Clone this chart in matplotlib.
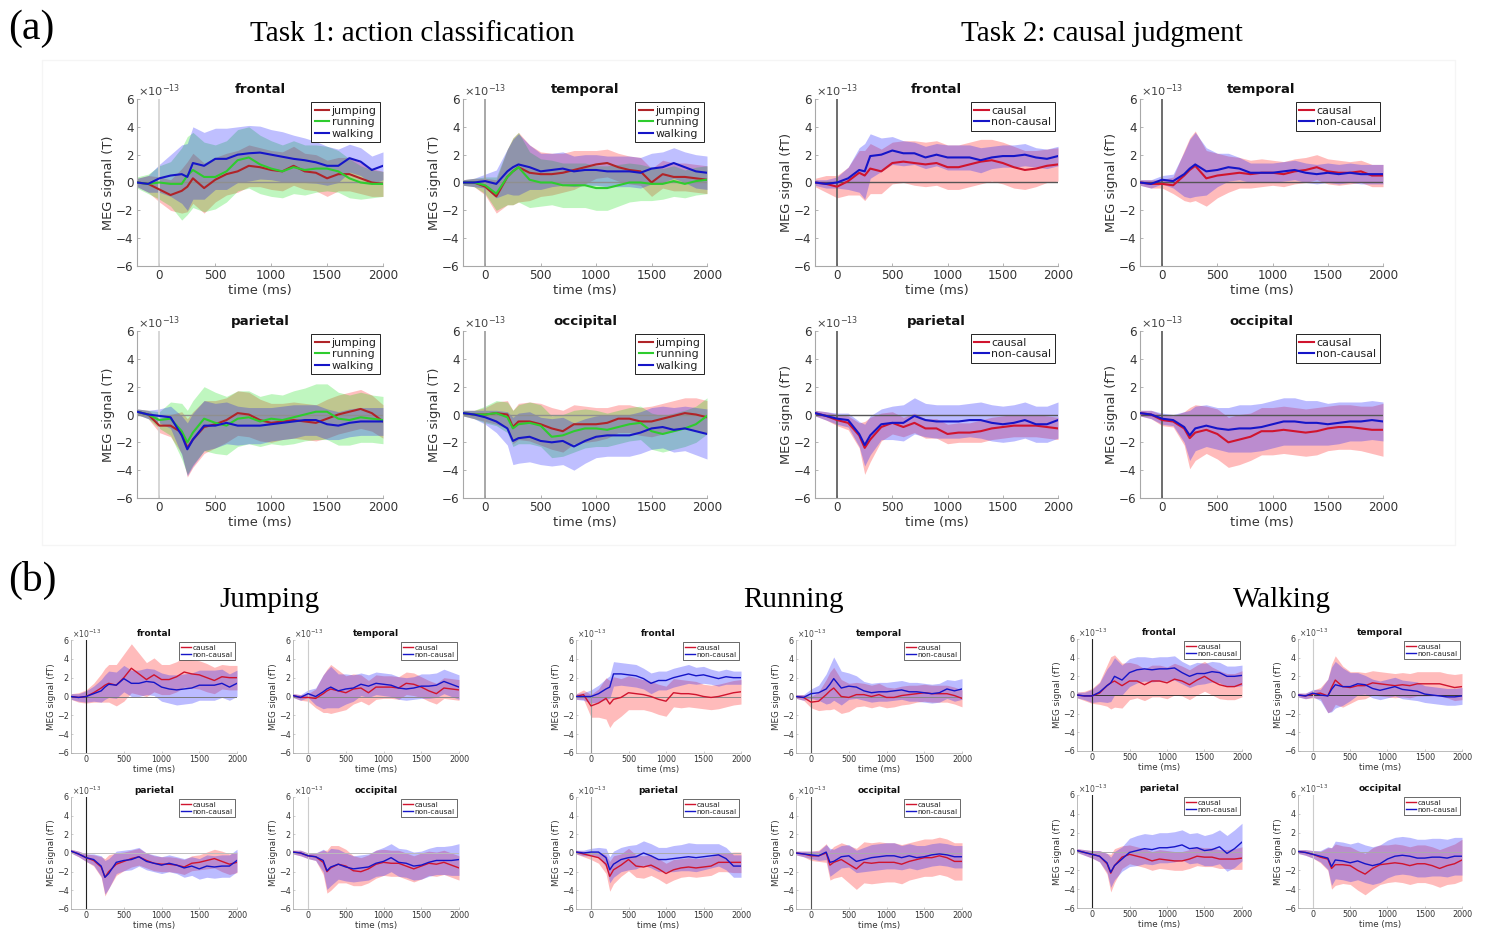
import numpy as np
import matplotlib
matplotlib.use("Agg")
import matplotlib.pyplot as plt
from matplotlib.patches import Rectangle

plt.rcParams["font.family"] = ["DejaVu Sans"]
plt.rcParams["mathtext.fontset"] = "dejavusans"

# ---------------- data (values in units of 1e-13 T) ----------------
t_ms = [-200, -100, 0, 100, 200, 250, 300, 400, 500, 600, 700, 800, 900, 1000,
        1100, 1200, 1300, 1400, 1500, 1600, 1700, 1800, 1900, 2000]

regions = ["frontal", "temporal", "parietal", "occipital"]
actions = ["jumping", "running", "walking"]
conditions = ["causal", "non-causal"]
x_ticks = [0, 500, 1000, 1500, 2000]
y_ticks = [-6, -4, -2, 0, 2, 4, 6]

# Task 1: action classification
t1_frontal_jumping = [0, -0.1, -0.5, -0.9, -0.6, -0.3, 0.3, -0.4, 0.2, 0.6, 0.8, 1.2, 1.1, 0.9, 0.8, 1.2, 0.8, 0.7, 0.3, 0.6, 0.6, 0.3, 0.0, -0.1]
t1_frontal_jumping_sd = [0.3, 0.6, 0.9, 1.1, 1.6, 1.8, 1.8, 1.8, 1.6, 1.5, 1.5, 1.5, 1.4, 1.4, 1.4, 1.4, 1.3, 1.3, 1.3, 1.2, 1.2, 1.1, 1.0, 0.9]
t1_frontal_running = [0, -0.1, 0.0, -0.1, -0.1, 0.5, 0.9, 0.4, 0.4, 0.8, 1.6, 1.8, 1.3, 1.0, 0.8, 1.1, 0.9, 1.0, 1.0, 0.8, 0.3, 0.0, -0.1, -0.1]
t1_frontal_running_sd = [0.4, 0.7, 1.2, 1.6, 2.6, 2.8, 2.7, 2.5, 2.3, 2.2, 2.2, 2.2, 2.1, 2.0, 1.9, 1.9, 1.8, 1.7, 1.6, 1.5, 1.4, 1.2, 1.0, 0.9]
t1_frontal_walking = [0, -0.1, 0.3, 0.5, 0.6, 0.4, 1.4, 1.2, 1.7, 1.7, 2.0, 2.1, 2.15, 2.0, 1.85, 1.7, 1.6, 1.45, 1.2, 1.2, 1.75, 1.5, 0.9, 1.2]
t1_frontal_walking_sd = [0.3, 0.6, 1.0, 1.5, 2.1, 2.4, 2.6, 2.4, 2.2, 2.2, 2.0, 2.0, 1.9, 1.8, 1.8, 1.7, 1.6, 1.5, 1.4, 1.2, 1.0, 1.0, 1.0, 1.0]

t1_temporal_jumping = [0, 0, -0.3, -1.0, 0.4, 0.8, 1.1, 0.7, 0.6, 0.6, 0.7, 0.9, 1.1, 1.3, 1.4, 1.1, 0.9, 0.8, 0.0, 0.6, 0.4, 0.4, 0.3, 0.2]
t1_temporal_jumping_sd = [0.2, 0.3, 0.6, 1.2, 2.0, 2.4, 2.5, 2.0, 1.6, 1.5, 1.4, 1.4, 1.2, 1.0, 1.0, 1.0, 1.0, 1.0, 1.0, 1.0, 1.0, 1.0, 1.0, 1.0]
t1_temporal_running = [0, 0, -0.2, -0.8, 0.4, 0.8, 1.1, 0.2, 0.0, 0.0, -0.2, -0.2, -0.2, -0.4, -0.4, -0.2, 0.0, 0.0, -0.1, -0.1, 0.1, -0.1, 0.1, 0.2]
t1_temporal_running_sd = [0.2, 0.3, 0.6, 1.2, 2.0, 2.4, 2.5, 2.0, 1.7, 1.6, 1.6, 1.6, 1.6, 1.6, 1.6, 1.5, 1.4, 1.3, 1.2, 1.1, 1.1, 1.0, 1.0, 1.0]
t1_temporal_walking = [0, 0, 0.1, -0.1, 0.8, 1.1, 1.3, 1.1, 0.8, 0.9, 1.0, 0.8, 0.9, 0.9, 0.8, 0.8, 0.8, 0.7, 1.0, 1.1, 1.4, 1.1, 0.8, 0.7]
t1_temporal_walking_sd = [0.2, 0.3, 0.5, 1.0, 1.6, 2.0, 2.2, 1.6, 1.3, 1.2, 1.2, 1.1, 1.1, 1.1, 1.1, 1.1, 1.1, 1.1, 1.1, 1.1, 1.1, 1.1, 1.2, 1.2]

t1_parietal_jumping = [0.2, 0, -0.8, -0.8, -1.3, -2.4, -1.8, -0.9, -0.7, -0.4, 0.1, 0.0, -0.4, -0.6, -0.5, -0.4, -0.5, -0.6, -0.3, 0.0, 0.2, 0.4, 0.1, -0.5]
t1_parietal_jumping_sd = [0.2, 0.3, 0.5, 0.8, 1.5, 2.1, 2.0, 1.9, 1.7, 1.6, 1.6, 1.6, 1.5, 1.4, 1.3, 1.3, 1.3, 1.3, 1.4, 1.4, 1.4, 1.4, 1.3, 1.2]
t1_parietal_running = [0.2, 0, -0.4, -0.3, -1.2, -2.0, -1.3, -0.3, -0.6, -0.8, -0.3, -0.2, -0.5, -0.3, -0.4, -0.2, 0.0, 0.2, 0.2, -0.3, -0.4, -0.2, -0.3, -0.4]
t1_parietal_running_sd = [0.2, 0.3, 0.6, 1.2, 2.0, 2.3, 2.3, 2.3, 2.2, 2.1, 2.0, 1.9, 1.8, 1.8, 1.8, 1.9, 1.9, 2.0, 2.0, 1.9, 1.8, 1.8, 1.7, 1.7]
t1_parietal_walking = [0.2, 0, -0.1, -0.2, -1.5, -2.5, -1.8, -0.8, -0.8, -0.6, -0.8, -0.8, -0.8, -0.7, -0.6, -0.5, -0.4, -0.4, -0.7, -0.8, -0.6, -0.5, -0.5, -0.5]
t1_parietal_walking_sd = [0.2, 0.3, 0.5, 0.8, 1.4, 1.9, 1.9, 1.8, 1.6, 1.5, 1.4, 1.3, 1.3, 1.2, 1.2, 1.2, 1.1, 1.1, 1.1, 1.0, 1.0, 1.0, 1.0, 1.0]

t1_occipital_jumping = [0.1, 0, 0, 0.1, 0.0, -0.9, -0.5, -0.5, -0.7, -1.0, -1.2, -0.7, -0.7, -0.7, -0.6, -0.3, -0.3, -0.5, -0.5, -0.3, -0.1, 0.1, 0.0, -0.2]
t1_occipital_jumping_sd = [0.2, 0.3, 0.5, 0.8, 1.0, 1.2, 1.3, 1.4, 1.5, 1.5, 1.5, 1.4, 1.3, 1.2, 1.1, 1.0, 1.0, 1.0, 1.1, 1.1, 1.1, 1.1, 1.2, 1.2]
t1_occipital_running = [0.1, 0, 0, 0.1, -0.2, -1.0, -0.7, -0.6, -0.8, -1.6, -1.5, -1.2, -1.0, -1.0, -1.1, -0.9, -0.7, -0.6, -1.2, -1.4, -1.2, -1.0, -0.7, -0.1]
t1_occipital_running_sd = [0.2, 0.3, 0.6, 0.9, 1.1, 1.3, 1.4, 1.5, 1.5, 1.5, 1.5, 1.5, 1.4, 1.3, 1.2, 1.2, 1.2, 1.2, 1.3, 1.3, 1.3, 1.3, 1.3, 1.3]
t1_occipital_walking = [0.1, 0, -0.2, -0.5, -1.0, -1.9, -1.7, -1.6, -1.9, -2.0, -1.9, -2.3, -1.9, -1.6, -1.5, -1.5, -1.5, -1.3, -1.0, -0.9, -1.1, -1.0, -1.2, -1.4]
t1_occipital_walking_sd = [0.2, 0.3, 0.5, 0.8, 1.2, 1.7, 1.8, 1.8, 1.7, 1.7, 1.7, 1.7, 1.6, 1.5, 1.5, 1.5, 1.5, 1.5, 1.5, 1.5, 1.6, 1.6, 1.7, 1.8]

# Task 2: causal judgment
t2_frontal_causal = [0, -0.1, -0.3, 0.1, 0.7, 0.5, 1.0, 0.8, 1.4, 1.5, 1.4, 1.3, 1.4, 1.1, 1.1, 1.3, 1.5, 1.6, 1.4, 1.1, 0.9, 1.0, 1.2, 1.3]
t2_frontal_causal_sd = [0.3, 0.6, 0.8, 1.0, 1.6, 1.8, 1.8, 1.6, 1.5, 1.5, 1.6, 1.6, 1.6, 1.6, 1.6, 1.6, 1.6, 1.5, 1.5, 1.5, 1.4, 1.3, 1.2, 1.2]
t2_frontal_noncausal = [0, -0.1, 0.0, 0.3, 0.9, 0.8, 1.9, 2.0, 2.3, 2.1, 2.1, 1.8, 2.0, 1.8, 1.8, 1.8, 1.6, 1.8, 1.9, 1.9, 2.0, 1.8, 1.7, 1.9]
t2_frontal_noncausal_sd = [0.2, 0.3, 0.4, 0.8, 1.6, 2.0, 1.6, 1.2, 1.0, 0.9, 0.8, 0.8, 0.8, 0.9, 0.9, 0.9, 0.9, 0.8, 0.8, 0.8, 0.8, 0.7, 0.7, 0.7]

t2_temporal_causal = [0, -0.1, -0.1, -0.2, 0.5, 0.9, 1.2, 0.3, 0.5, 0.6, 0.7, 0.6, 0.7, 0.7, 0.6, 0.8, 0.9, 1.1, 0.8, 0.7, 0.7, 0.8, 0.5, 0.5]
t2_temporal_causal_sd = [0.2, 0.3, 0.3, 0.6, 1.8, 2.3, 2.5, 2.0, 1.6, 1.3, 1.1, 1.0, 1.0, 0.9, 0.9, 0.9, 0.9, 0.9, 0.9, 0.9, 0.8, 0.8, 0.8, 0.8]
t2_temporal_noncausal = [0, -0.1, 0.2, 0.1, 0.6, 1.0, 1.3, 0.8, 0.9, 1.1, 1.0, 0.7, 0.7, 0.7, 0.8, 0.9, 0.7, 0.6, 0.7, 0.6, 0.7, 0.6, 0.6, 0.6]
t2_temporal_noncausal_sd = [0.2, 0.3, 0.3, 0.5, 1.6, 2.1, 2.3, 1.7, 1.2, 1.0, 0.8, 0.7, 0.7, 0.7, 0.7, 0.7, 0.7, 0.7, 0.7, 0.7, 0.7, 0.7, 0.7, 0.7]

t2_parietal_causal = [0.1, -0.1, -0.4, -0.6, -1.5, -2.4, -1.8, -0.9, -0.6, -0.9, -0.6, -1.0, -1.0, -1.4, -1.3, -1.3, -1.2, -1.0, -0.9, -0.8, -0.8, -0.8, -0.9, -1.0]
t2_parietal_causal_sd = [0.2, 0.3, 0.4, 0.5, 0.9, 1.9, 1.6, 1.0, 0.8, 0.7, 0.7, 0.7, 0.7, 0.7, 0.7, 0.7, 0.8, 0.8, 0.8, 0.8, 0.8, 0.8, 0.8, 0.8]
t2_parietal_noncausal = [0.1, -0.1, -0.3, -0.4, -1.4, -2.2, -1.5, -0.7, -0.6, -0.6, -0.1, -0.4, -0.5, -0.5, -0.5, -0.4, -0.4, -0.6, -0.7, -0.6, -0.4, -0.7, -0.7, -0.4]
t2_parietal_noncausal_sd = [0.2, 0.3, 0.4, 0.5, 0.9, 1.5, 1.4, 1.1, 1.2, 1.3, 1.3, 1.2, 1.2, 1.2, 1.2, 1.2, 1.3, 1.3, 1.3, 1.3, 1.3, 1.3, 1.3, 1.3]

t2_occipital_causal = [0.1, 0, -0.4, -0.5, -1.0, -1.7, -1.3, -1.1, -1.4, -2.0, -1.8, -1.6, -1.2, -1.2, -1.1, -1.2, -1.3, -1.2, -1.0, -0.9, -0.9, -1.0, -1.1, -1.1]
t2_occipital_causal_sd = [0.2, 0.3, 0.4, 0.4, 1.2, 2.2, 2.0, 1.7, 1.8, 1.8, 1.8, 1.7, 1.7, 1.7, 1.7, 1.7, 1.7, 1.7, 1.6, 1.6, 1.6, 1.6, 1.7, 1.9]
t2_occipital_noncausal = [0.1, 0, -0.3, -0.4, -0.9, -1.5, -1.0, -0.8, -1.0, -1.1, -1.0, -1.0, -0.9, -0.7, -0.5, -0.5, -0.6, -0.6, -0.7, -0.6, -0.5, -0.5, -0.4, -0.5]
t2_occipital_noncausal_sd = [0.2, 0.3, 0.4, 0.4, 1.1, 1.8, 1.6, 1.5, 1.5, 1.6, 1.7, 1.7, 1.7, 1.7, 1.7, 1.7, 1.6, 1.6, 1.5, 1.5, 1.4, 1.4, 1.4, 1.4]

# (b) Jumping
jump_frontal_causal = [0, -0.1, 0.0, 0.4, 0.9, 1.2, 1.4, 1.2, 2.0, 3.0, 2.4, 1.8, 2.3, 1.8, 1.8, 2.1, 2.6, 2.4, 2.3, 2.0, 1.7, 2.1, 2.0, 2.0]
jump_frontal_causal_sd = [0.3, 0.5, 0.7, 1.0, 1.5, 1.8, 2.0, 2.2, 2.5, 2.6, 2.2, 1.8, 1.8, 1.6, 1.6, 1.6, 1.6, 1.5, 1.5, 1.5, 1.4, 1.3, 1.3, 1.3]
jump_frontal_noncausal = [0, -0.1, 0.0, 0.3, 0.6, 1.0, 1.3, 1.2, 1.9, 1.4, 1.4, 1.6, 1.5, 1.0, 0.8, 0.7, 0.8, 0.9, 1.2, 1.2, 1.2, 1.4, 1.0, 1.4]
jump_frontal_noncausal_sd = [0.3, 0.4, 0.6, 0.8, 1.2, 1.3, 1.4, 1.4, 1.4, 1.4, 1.4, 1.4, 1.4, 1.5, 1.5, 1.6, 1.6, 1.6, 1.6, 1.6, 1.6, 1.5, 1.4, 1.4]
jump_temporal_causal = [0.1, -0.1, -0.1, -0.2, 0.3, 0.6, 0.8, 0.6, 0.4, 0.8, 0.9, 0.4, 1.0, 1.0, 1.0, 0.9, 1.4, 1.3, 1.0, 0.6, 0.3, 0.9, 0.8, 0.7]
jump_temporal_causal_sd = [0.2, 0.3, 0.4, 1.0, 2.0, 2.3, 2.6, 2.2, 1.8, 1.6, 1.4, 1.3, 1.3, 1.2, 1.2, 1.2, 1.2, 1.2, 1.1, 1.1, 1.1, 1.1, 1.1, 1.1]
jump_temporal_noncausal = [0.1, -0.1, 0.3, 0.0, 0.5, 0.8, 1.0, 0.6, 0.8, 0.9, 1.3, 1.1, 1.4, 1.3, 1.2, 0.9, 0.8, 0.9, 1.1, 1.1, 1.2, 1.6, 1.3, 1.0]
jump_temporal_noncausal_sd = [0.2, 0.3, 0.4, 0.9, 1.8, 2.0, 2.2, 1.8, 1.6, 1.4, 1.2, 1.2, 1.2, 1.2, 1.2, 1.2, 1.2, 1.2, 1.3, 1.3, 1.3, 1.3, 1.3, 1.3]
jump_parietal_causal = [0.2, -0.1, -0.5, -0.8, -1.5, -2.6, -2.0, -1.2, -0.9, -0.6, -0.4, -0.8, -1.1, -1.2, -1.2, -1.3, -1.5, -1.1, -1.0, -0.8, -0.6, -0.9, -1.2, -1.0]
jump_parietal_causal_sd = [0.2, 0.3, 0.4, 0.6, 1.1, 2.0, 1.8, 1.2, 1.0, 0.9, 0.9, 0.8, 0.8, 0.8, 0.8, 0.8, 0.8, 0.8, 0.8, 0.9, 1.0, 1.1, 1.1, 1.1]
jump_parietal_noncausal = [0.2, -0.1, -0.5, -0.7, -1.4, -2.6, -2.2, -1.0, -0.8, -0.7, -0.4, -0.9, -1.1, -1.3, -1.1, -1.3, -1.6, -1.4, -1.7, -1.4, -1.5, -1.4, -1.4, -0.8]
jump_parietal_noncausal_sd = [0.2, 0.3, 0.4, 0.6, 1.1, 1.8, 1.6, 1.2, 1.1, 1.1, 1.0, 0.9, 0.9, 0.9, 0.9, 0.9, 1.0, 1.0, 1.1, 1.2, 1.2, 1.2, 1.2, 1.2]
jump_occipital_causal = [0.1, 0, -0.3, -0.4, -1.0, -2.0, -1.6, -1.2, -1.4, -1.9, -2.0, -1.7, -1.2, -1.0, -1.1, -1.1, -1.4, -1.7, -1.4, -1.1, -1.2, -1.0, -1.3, -1.6]
jump_occipital_causal_sd = [0.2, 0.3, 0.3, 0.4, 1.3, 2.3, 2.4, 2.0, 1.8, 1.6, 1.5, 1.5, 1.5, 1.4, 1.4, 1.4, 1.4, 1.4, 1.4, 1.3, 1.3, 1.3, 1.3, 1.3]
jump_occipital_noncausal = [0.1, 0, -0.3, -0.4, -0.8, -1.9, -1.5, -1.2, -1.5, -1.7, -1.6, -1.5, -1.1, -0.9, -0.5, -1.0, -1.1, -1.4, -1.3, -1.0, -0.8, -0.8, -0.8, -0.7]
jump_occipital_noncausal_sd = [0.2, 0.3, 0.3, 0.4, 1.2, 2.0, 2.0, 1.6, 1.5, 1.4, 1.4, 1.4, 1.4, 1.5, 1.5, 1.5, 1.5, 1.5, 1.5, 1.5, 1.5, 1.5, 1.6, 1.7]

# (b) Running
run_frontal_causal = [0, 0.2, -1.0, -0.7, -0.2, -0.8, -0.3, -0.1, 0.4, 0.3, 0.2, 0.0, -0.3, -0.5, 0.4, 0.3, 0.3, 0.2, 0.0, -0.1, 0.0, 0.2, 0.4, 0.5]
run_frontal_causal_sd = [0.3, 0.5, 1.2, 1.5, 2.2, 2.5, 2.4, 2.0, 1.8, 1.7, 1.6, 1.6, 1.6, 1.6, 1.5, 1.5, 1.4, 1.4, 1.3, 1.3, 1.3, 1.3, 1.3, 1.3]
run_frontal_noncausal = [0, 0, 0.0, 0.3, 0.8, 1.0, 2.4, 2.4, 2.3, 2.2, 1.9, 1.4, 1.7, 1.7, 2.0, 2.2, 2.4, 2.2, 2.3, 2.1, 1.9, 2.1, 2.0, 2.0]
run_frontal_noncausal_sd = [0.3, 0.4, 0.7, 0.9, 1.1, 1.2, 1.3, 1.2, 1.2, 1.2, 1.1, 1.1, 1.0, 1.0, 1.0, 1.0, 1.0, 0.9, 0.9, 0.8, 0.8, 0.8, 0.7, 0.7]
run_temporal_causal = [0, -0.1, -0.6, -0.5, 0.2, 0.6, 0.9, 0.0, -0.1, 0.2, 0.2, 0.0, 0.2, -0.1, -0.1, 0.1, 0.2, 0.3, 0.4, 0.3, 0.3, 0.3, 0.1, -0.2]
run_temporal_causal_sd = [0.2, 0.3, 0.6, 1.0, 1.6, 2.0, 2.2, 1.8, 1.5, 1.3, 1.2, 1.2, 1.2, 1.1, 1.0, 1.0, 1.0, 0.9, 0.9, 0.9, 0.9, 0.9, 0.9, 0.9]
run_temporal_noncausal = [0, -0.1, 0.3, 0.4, 0.8, 1.3, 1.9, 0.9, 1.1, 1.0, 0.6, 0.4, 0.5, 0.5, 0.6, 0.7, 0.5, 0.5, 0.4, 0.3, 0.4, 0.8, 0.6, 0.8]
run_temporal_noncausal_sd = [0.2, 0.3, 0.5, 0.8, 1.6, 2.0, 2.3, 1.8, 1.4, 1.2, 1.0, 1.0, 1.0, 1.0, 1.0, 1.0, 1.0, 1.0, 1.0, 1.0, 1.0, 1.0, 1.1, 1.1]
run_parietal_causal = [0.1, -0.1, -0.3, -0.5, -1.2, -2.5, -1.8, -1.3, -0.7, -1.4, -1.5, -1.3, -1.7, -2.2, -1.8, -1.6, -1.5, -1.6, -1.5, -1.4, -1.0, -1.0, -1.0, -1.0]
run_parietal_causal_sd = [0.2, 0.3, 0.4, 0.6, 1.0, 1.6, 1.5, 1.2, 1.2, 1.2, 1.2, 1.1, 1.1, 1.1, 1.1, 1.0, 1.0, 1.0, 1.0, 1.0, 1.0, 1.0, 1.1, 1.1]
run_parietal_noncausal = [0.1, 0, 0.1, 0.1, -0.5, -1.8, -1.2, -0.7, -0.5, -0.4, 0.0, -0.3, -0.7, -0.7, -0.6, -0.5, -0.4, -0.5, -0.4, -0.3, -0.2, -0.6, -1.4, -1.4]
run_parietal_noncausal_sd = [0.2, 0.3, 0.4, 0.5, 1.0, 1.4, 1.4, 1.3, 1.3, 1.3, 1.3, 1.3, 1.3, 1.3, 1.4, 1.4, 1.5, 1.5, 1.4, 1.3, 1.2, 1.2, 1.2, 1.2]
run_occipital_causal = [0, -0.1, -0.3, -0.3, 0.0, -1.3, -1.0, -0.7, -1.2, -1.7, -1.0, -1.1, -1.0, -1.0, -1.0, -1.2, -0.9, -0.7, -0.5, -0.5, -0.3, -0.5, -0.9, -0.9]
run_occipital_causal_sd = [0.2, 0.3, 0.5, 0.6, 1.0, 1.6, 1.7, 1.8, 2.0, 2.2, 2.2, 2.2, 2.2, 2.1, 2.1, 2.1, 2.0, 2.0, 2.0, 2.0, 2.0, 2.0, 2.0, 2.0]
run_occipital_noncausal = [0, -0.1, -0.2, -0.3, 0.1, -1.0, -0.9, -0.4, -0.3, -0.9, -0.7, -0.5, -0.4, -0.3, -0.3, -0.5, -0.3, -0.5, -0.4, -0.2, -0.1, -0.2, -0.4, -0.4]
run_occipital_noncausal_sd = [0.2, 0.3, 0.4, 0.5, 0.8, 1.5, 1.3, 1.2, 1.2, 1.2, 1.3, 1.4, 1.4, 1.4, 1.4, 1.3, 1.3, 1.3, 1.2, 1.2, 1.2, 1.2, 1.2, 1.2]

# (b) Walking
walk_frontal_causal = [0, -0.1, -0.1, 0.2, 1.0, 1.3, 1.5, 1.0, 1.5, 1.5, 1.1, 1.5, 1.5, 1.3, 1.7, 1.5, 1.1, 1.6, 2.0, 1.5, 1.1, 0.9, 0.9, 1.2]
walk_frontal_causal_sd = [0.3, 0.5, 0.8, 1.2, 2.2, 2.8, 2.8, 2.4, 2.0, 1.8, 1.7, 1.7, 1.7, 1.7, 1.7, 1.6, 1.6, 1.6, 1.6, 1.5, 1.5, 1.4, 1.4, 1.4]
walk_frontal_noncausal = [0, -0.1, -0.1, 0.3, 1.0, 1.3, 2.0, 1.6, 2.4, 2.7, 2.8, 2.7, 2.8, 2.8, 2.9, 2.4, 2.0, 2.3, 2.3, 2.5, 2.4, 2.0, 2.0, 2.1]
walk_frontal_noncausal_sd = [0.3, 0.4, 0.7, 1.0, 1.8, 2.0, 2.0, 1.6, 1.5, 1.4, 1.3, 1.3, 1.3, 1.3, 1.3, 1.2, 1.2, 1.2, 1.1, 1.1, 1.1, 1.1, 1.1, 1.1]
walk_temporal_causal = [0, -0.1, 0.1, 0.2, -0.1, 0.8, 1.6, 0.9, 0.8, 1.0, 1.0, 1.3, 1.2, 1.1, 1.0, 1.1, 1.0, 1.2, 1.2, 1.2, 1.2, 1.0, 0.8, 0.9]
walk_temporal_causal_sd = [0.2, 0.3, 0.4, 0.6, 1.8, 2.5, 2.6, 2.2, 1.7, 1.5, 1.4, 1.3, 1.3, 1.3, 1.3, 1.3, 1.3, 1.3, 1.3, 1.3, 1.3, 1.3, 1.4, 1.4]
walk_temporal_noncausal = [0, -0.1, 0.2, 0.0, -0.1, 0.6, 1.1, 0.9, 0.9, 1.2, 1.1, 0.7, 0.5, 0.7, 0.9, 0.6, 0.5, 0.4, 0.1, 0.0, -0.1, -0.2, -0.2, -0.1]
walk_temporal_noncausal_sd = [0.2, 0.3, 0.4, 0.6, 1.8, 2.4, 2.5, 2.0, 1.5, 1.2, 1.0, 1.0, 1.0, 1.0, 1.0, 1.0, 1.0, 1.0, 0.9, 0.9, 0.9, 0.9, 0.9, 0.9]
walk_parietal_causal = [0.1, -0.1, -0.3, -0.5, -1.3, -2.3, -1.5, -0.6, -0.3, -0.5, -0.7, -1.0, -0.8, -0.9, -1.0, -1.0, -0.8, -0.5, -0.6, -0.6, -0.8, -0.8, -0.8, -0.7]
walk_parietal_causal_sd = [0.2, 0.3, 0.4, 0.6, 1.1, 2.0, 1.8, 1.2, 1.0, 1.0, 1.0, 1.0, 1.0, 1.0, 1.0, 1.0, 1.0, 1.0, 1.0, 1.0, 1.0, 1.0, 1.1, 1.2]
walk_parietal_noncausal = [0.1, -0.1, -0.3, -0.5, -1.2, -2.2, -1.5, -0.8, -0.1, 0.1, 0.3, 0.2, 0.4, 0.4, 0.5, 0.7, 0.3, 0.4, 0.1, 0.2, 0.5, -0.2, 0.3, 1.0]
walk_parietal_noncausal_sd = [0.2, 0.3, 0.4, 0.6, 1.0, 1.6, 1.5, 1.3, 1.5, 1.6, 1.6, 1.6, 1.6, 1.6, 1.6, 1.6, 1.6, 1.6, 1.6, 1.7, 1.8, 1.9, 2.0, 2.0]
walk_occipital_causal = [0, -0.1, -0.3, -0.6, -0.8, -1.8, -1.4, -1.4, -1.5, -2.0, -2.4, -1.8, -1.4, -1.3, -1.2, -1.3, -1.5, -1.3, -1.3, -1.5, -1.8, -1.5, -1.3, -0.9]
walk_occipital_causal_sd = [0.2, 0.3, 0.4, 0.6, 1.2, 2.2, 2.2, 2.0, 2.0, 2.1, 2.2, 2.2, 2.1, 2.0, 2.0, 2.0, 2.0, 2.0, 2.0, 2.0, 2.0, 2.0, 2.1, 2.2]
walk_occipital_noncausal = [0, -0.1, -0.3, -0.5, -0.7, -1.6, -0.9, -1.0, -1.2, -1.0, -1.3, -1.5, -1.3, -0.8, -0.5, -0.4, -0.5, -0.7, -0.7, -0.6, -0.6, -0.7, -0.5, -0.5]
walk_occipital_noncausal_sd = [0.2, 0.3, 0.4, 0.6, 1.2, 2.0, 2.0, 2.0, 2.0, 2.0, 2.0, 2.0, 2.0, 2.0, 2.0, 2.0, 2.0, 2.0, 2.0, 2.0, 2.0, 2.0, 2.0, 2.0]

# ---------------- figure ----------------
W, H = 1491, 934
fig = plt.figure(figsize=(W / 100, H / 100), dpi=100)
fig.patch.set_facecolor("white")


def ax_at(l, t, r, b):
    return fig.add_axes([l / W, 1 - b / H, (r - l) / W, (b - t) / H])


T1_LINE = {"jumping": "#b02428", "running": "#2ecc2e", "walking": "#1515c8"}
T1_FILL = {"jumping": "#ff0000", "running": "#00dd00", "walking": "#0000ff"}
T2_LINE = {"causal": "#d0142e", "non-causal": "#1515c8"}
T2_FILL = {"causal": "#ff2020", "non-causal": "#2020ff"}


def panel(ax, title, names, means, sds, line_cols, fill_cols, ylabel, s,
          vcol, hcol, falpha=0.25):
    tt = np.array(t_ms, dtype=float)
    for nm, m, sd in zip(names, means, sds):
        m = np.array(m, dtype=float)
        sd = np.array(sd, dtype=float)
        ax.fill_between(tt, m - sd, m + sd, color=fill_cols[nm], alpha=falpha,
                        lw=0, zorder=1)
    ax.axhline(0, color=hcol, lw=1.0 * s, zorder=2)
    ax.axvline(0, color=vcol, lw=1.2 * s, zorder=2)
    for nm, m in zip(names, means):
        ax.plot(tt, m, color=line_cols[nm], lw=1.5 * s, label=nm, zorder=3)
    ax.set_xlim(-200, 2000)
    ax.set_ylim(-6, 6)
    ax.set_xticks(x_ticks)
    ax.set_yticks(y_ticks)
    for sp in ["top", "right"]:
        ax.spines[sp].set_visible(False)
    for sp in ["left", "bottom"]:
        ax.spines[sp].set_color("#a8a8a8")
        ax.spines[sp].set_linewidth(0.8 * s)
    ax.tick_params(direction="in", length=2.5 * s, width=0.6 * s,
                   color="#a8a8a8", labelcolor="#333333",
                   labelsize=8.6 * s, pad=2.5 * s)
    ax.set_xlabel("time (ms)", fontsize=9.4 * s, color="#333333", labelpad=1 * s)
    ax.set_ylabel(ylabel, fontsize=9.4 * s, color="#333333", labelpad=1 * s)
    ax.set_title(title, fontweight="bold", fontsize=9.6 * s, pad=4.5 * s,
                 color="#111111")
    ax.text(0.005, 1.0, r"$\times10^{-13}$", transform=ax.transAxes,
            ha="left", va="bottom", fontsize=8.2 * s, color="#444444")
    leg = ax.legend(loc="upper right", fontsize=7.9 * s, frameon=True,
                    fancybox=False, borderpad=0.3, labelspacing=0.15,
                    handlelength=1.3, handletextpad=0.25,
                    borderaxespad=0.3)
    leg.get_frame().set_edgecolor("#222222")
    leg.get_frame().set_linewidth(0.7 * s)
    leg.get_frame().set_alpha(1)
    for txt in leg.get_texts():
        txt.set_color("#222222")


# ---- (a) layout (pixel boxes) ----
t1_boxes = {"frontal": (137, 99, 383, 266), "temporal": (463, 99, 707, 266),
            "parietal": (137, 331, 383, 498), "occipital": (463, 331, 707, 498)}
t2_boxes = {"frontal": (815, 99, 1058, 266), "temporal": (1140, 99, 1383, 266),
            "parietal": (815, 331, 1058, 498), "occipital": (1140, 331, 1383, 498)}

t1_data = {
    "frontal": ([t1_frontal_jumping, t1_frontal_running, t1_frontal_walking],
                [t1_frontal_jumping_sd, t1_frontal_running_sd, t1_frontal_walking_sd]),
    "temporal": ([t1_temporal_jumping, t1_temporal_running, t1_temporal_walking],
                 [t1_temporal_jumping_sd, t1_temporal_running_sd, t1_temporal_walking_sd]),
    "parietal": ([t1_parietal_jumping, t1_parietal_running, t1_parietal_walking],
                 [t1_parietal_jumping_sd, t1_parietal_running_sd, t1_parietal_walking_sd]),
    "occipital": ([t1_occipital_jumping, t1_occipital_running, t1_occipital_walking],
                  [t1_occipital_jumping_sd, t1_occipital_running_sd, t1_occipital_walking_sd]),
}
t1_vcol = {"frontal": "#cfcfcf", "temporal": "#9a9a9a", "parietal": "#cfcfcf", "occipital": "#9a9a9a"}

for r in regions:
    ax = ax_at(*t1_boxes[r])
    panel(ax, r, actions, t1_data[r][0], t1_data[r][1], T1_LINE, T1_FILL,
          "MEG signal (T)", 1.0, t1_vcol[r], "#8f8f8f", falpha=0.25)

t2_data = {
    "frontal": ([t2_frontal_causal, t2_frontal_noncausal], [t2_frontal_causal_sd, t2_frontal_noncausal_sd]),
    "temporal": ([t2_temporal_causal, t2_temporal_noncausal], [t2_temporal_causal_sd, t2_temporal_noncausal_sd]),
    "parietal": ([t2_parietal_causal, t2_parietal_noncausal], [t2_parietal_causal_sd, t2_parietal_noncausal_sd]),
    "occipital": ([t2_occipital_causal, t2_occipital_noncausal], [t2_occipital_causal_sd, t2_occipital_noncausal_sd]),
}
for r in regions:
    ax = ax_at(*t2_boxes[r])
    panel(ax, r, conditions, t2_data[r][0], t2_data[r][1], T2_LINE, T2_FILL,
          "MEG signal (fT)", 1.0, "#555555", "#555555", falpha=0.3)

# ---- (b) layout ----
S = 0.675
b_groups = {
    "Jumping": ({"frontal": (71, 640, 237, 753), "temporal": (293, 640, 459, 753),
                 "parietal": (71, 797, 237, 909), "occipital": (293, 797, 459, 909)},
                {"frontal": ([jump_frontal_causal, jump_frontal_noncausal], [jump_frontal_causal_sd, jump_frontal_noncausal_sd]),
                 "temporal": ([jump_temporal_causal, jump_temporal_noncausal], [jump_temporal_causal_sd, jump_temporal_noncausal_sd]),
                 "parietal": ([jump_parietal_causal, jump_parietal_noncausal], [jump_parietal_causal_sd, jump_parietal_noncausal_sd]),
                 "occipital": ([jump_occipital_causal, jump_occipital_noncausal], [jump_occipital_causal_sd, jump_occipital_noncausal_sd])},
                {"frontal": ("#222222", "#777777"), "temporal": ("#cccccc", "#888888"),
                 "parietal": ("#222222", "#bbbbbb"), "occipital": ("#cccccc", "#bbbbbb")}),
    "Running": ({"frontal": (576, 640, 741, 753), "temporal": (796, 640, 962, 753),
                 "parietal": (576, 797, 741, 909), "occipital": (796, 797, 962, 909)},
                {"frontal": ([run_frontal_causal, run_frontal_noncausal], [run_frontal_causal_sd, run_frontal_noncausal_sd]),
                 "temporal": ([run_temporal_causal, run_temporal_noncausal], [run_temporal_causal_sd, run_temporal_noncausal_sd]),
                 "parietal": ([run_parietal_causal, run_parietal_noncausal], [run_parietal_causal_sd, run_parietal_noncausal_sd]),
                 "occipital": ([run_occipital_causal, run_occipital_noncausal], [run_occipital_causal_sd, run_occipital_noncausal_sd])},
                {"frontal": ("#999999", "#888888"), "temporal": ("#555555", "#888888"),
                 "parietal": ("#aaaaaa", "#aaaaaa"), "occipital": ("#555555", "#aaaaaa")}),
    "Walking": ({"frontal": (1077, 639, 1242, 751), "temporal": (1298, 639, 1462, 751),
                 "parietal": (1077, 795, 1242, 908), "occipital": (1298, 795, 1462, 908)},
                {"frontal": ([walk_frontal_causal, walk_frontal_noncausal], [walk_frontal_causal_sd, walk_frontal_noncausal_sd]),
                 "temporal": ([walk_temporal_causal, walk_temporal_noncausal], [walk_temporal_causal_sd, walk_temporal_noncausal_sd]),
                 "parietal": ([walk_parietal_causal, walk_parietal_noncausal], [walk_parietal_causal_sd, walk_parietal_noncausal_sd]),
                 "occipital": ([walk_occipital_causal, walk_occipital_noncausal], [walk_occipital_causal_sd, walk_occipital_noncausal_sd])},
                {"frontal": ("#222222", "#333333"), "temporal": ("#cccccc", "#333333"),
                 "parietal": ("#222222", "#aaaaaa"), "occipital": ("#cccccc", "#aaaaaa")}),
}

for g, (boxes, data, lines) in b_groups.items():
    for r in regions:
        ax = ax_at(*boxes[r])
        panel(ax, r, conditions, data[r][0], data[r][1], T2_LINE, T2_FILL,
              "MEG signal (fT)", S, lines[r][0], lines[r][1], falpha=0.3)

# ---- faint frame around section (a) ----
fig.patches.append(Rectangle((42 / W, 1 - 545 / H), (1455 - 42) / W, (545 - 60) / H,
                             transform=fig.transFigure, fill=False,
                             edgecolor="#f5f5f5", lw=1.0))

# ---- headings ----
serif = ["Liberation Serif", "DejaVu Serif"]
fig.text(8 / W, 1 - 29 / H, "(a)", family=serif, fontsize=30, ha="left", va="center")
fig.text(8 / W, 1 - 580 / H, "(b)", family=serif, fontsize=30, ha="left", va="center")
fig.text(412 / W, 1 - 34 / H, "Task 1: action classification", family=serif,
         fontsize=21, ha="center", va="center")
fig.text(1102 / W, 1 - 34 / H, "Task 2: causal judgment", family=serif,
         fontsize=21, ha="center", va="center")
fig.text(270 / W, 1 - 600 / H, "Jumping", family=serif, fontsize=21, ha="center", va="center")
fig.text(793 / W, 1 - 600 / H, "Running", family=serif, fontsize=21, ha="center", va="center")
fig.text(1282 / W, 1 - 600 / H, "Walking", family=serif, fontsize=21, ha="center", va="center")

fig.savefig("out.png", dpi=100, facecolor="white")
